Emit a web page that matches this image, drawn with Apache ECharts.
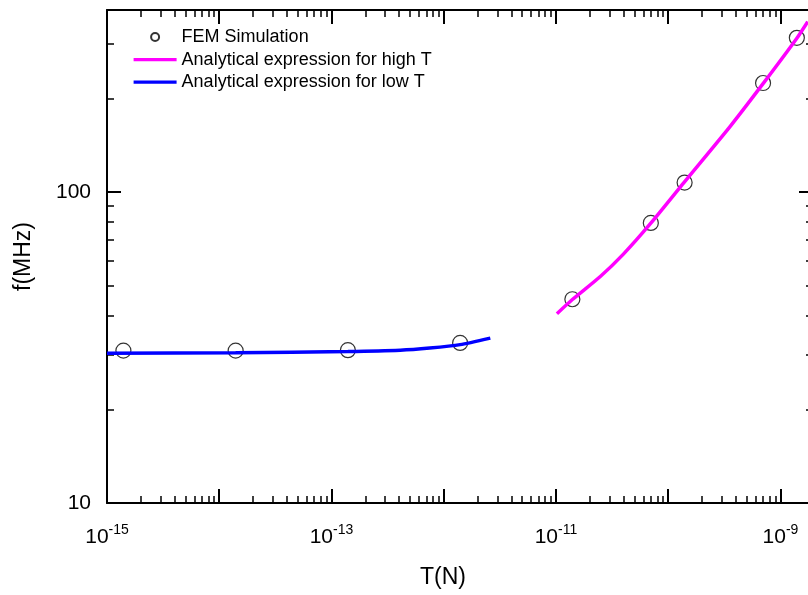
<!DOCTYPE html>
<html>
<head>
<meta charset="utf-8">
<script src="https://cdn.jsdelivr.net/npm/echarts@6/dist/echarts.min.js"></script>
<style>
html, body { margin: 0; padding: 0; background: #fff; }
#chart { width: 808px; height: 595px; }
</style>
</head>
<body>
<div id="chart"></div>
<script>
// FEM simulation points (T in N, f in MHz)
var femT = [1.4e-15, 1.4e-14, 1.4e-13, 1.4e-12, 1.4e-11, 7e-11, 1.4e-10, 7e-10, 1.4e-9];
var femF = [30.9, 30.9, 31.0, 32.7, 45.2, 79.5, 107.2, 224, 313];

// analytical expression, low T
var lowT = [1e-15, 1.4e-14, 1.4e-13, 4.1e-13, 7.5e-13, 1.4e-12, 2.6e-12];
var lowF = [30.3, 30.4, 30.7, 31.0, 31.5, 32.3, 33.9];

// analytical expression, high T
var highT = [1.02e-11, 1.4e-11, 2.47e-11, 3.95e-11, 7e-11, 1.38e-10, 3.54e-10, 7e-10, 1.39e-9, 1.75e-9];
var highF = [40.6, 45.1, 53.4, 62.9, 79.4, 107.2, 162, 223, 311, 353];

// axes: decade exponents
var xDecades = [-15, -14, -13, -12, -11, -10, -9];
var xLabelDecades = [-15, -13, -11, -9];
var yDecades = [1, 2];
var yLabels = ['10', '100'];

var xMin = -15, xMax = -8.71;
var yMin = 1, yMax = 2.585;
var font = '"Liberation Sans", Arial, sans-serif';

function toLog(xs, ys) {
    return xs.map(function (x, i) { return [Math.log10(x), Math.log10(ys[i])]; });
}

function minorTicks(decades, lo, hi) {
    var out = [];
    decades.forEach(function (d) {
        for (var k = 2; k < 10; k++) {
            var v = d + Math.log10(k);
            if (v > lo && v < hi) out.push(v);
        }
    });
    return out;
}

var xMinor = minorTicks(xDecades, xMin, xMax);
var yMinor = minorTicks(yDecades, yMin, yMax);

function tickAxis(pos, min, max, ticks, len, width, line) {
    return {
        type: 'value', position: pos, min: min, max: max,
        axisLine: { show: line, onZero: false, lineStyle: { color: '#000', width: 2 } },
        axisTick: { show: true, inside: true, length: len, customValues: ticks, lineStyle: { color: '#000', width: width } },
        axisLabel: { show: false },
        splitLine: { show: false }
    };
}

var xMain = tickAxis('bottom', xMin, xMax, xDecades, 14, 2, true);
xMain.axisLabel = {
    show: true, customValues: xLabelDecades, margin: 20, color: '#000',
    formatter: function (v) { return '{b|10}{s|' + v + '}'; },
    rich: {
        b: { fontSize: 21, fontFamily: font, color: '#000', lineHeight: 25, verticalAlign: 'bottom' },
        s: { fontSize: 14, fontFamily: font, color: '#000', lineHeight: 15, verticalAlign: 'top' }
    }
};
xMain.name = 'T(N)';
xMain.nameLocation = 'middle';
xMain.nameGap = 63;
xMain.nameTextStyle = { fontSize: 23, fontFamily: font, color: '#000', padding: [0, 34, 0, 0] };

var yMain = tickAxis('left', yMin, yMax, yDecades, 14, 2, true);
yMain.axisLabel = {
    show: true, customValues: yDecades, margin: 16, color: '#000', fontSize: 21, fontFamily: font,
    formatter: function (v) { return yLabels[yDecades.indexOf(Math.round(v))]; }
};
yMain.name = 'f(MHz)';
yMain.nameLocation = 'middle';
yMain.nameGap = 72;
yMain.nameTextStyle = { fontSize: 23, fontFamily: font, color: '#000' };

var chart = echarts.init(document.getElementById('chart'));
chart.setOption({
    animation: false,
    backgroundColor: '#fff',
    grid: { left: 107, right: -5, top: 10, bottom: 92, containLabel: false, outerBoundsMode: 'none' },
    legend: {
        left: 132, top: 28, orient: 'vertical', padding: 0,
        itemWidth: 43, itemHeight: 8, itemGap: 4.6,
        textStyle: { fontSize: 18, fontFamily: font, color: '#000', lineHeight: 18 },
        data: [
            { name: 'FEM Simulation' },
            { name: 'Analytical expression for high T', itemStyle: { opacity: 0 }, lineStyle: { width: 3.2 } },
            { name: 'Analytical expression for low T', itemStyle: { opacity: 0 }, lineStyle: { width: 3.2 } }
        ]
    },
    xAxis: [
        xMain,
        tickAxis('bottom', xMin, xMax, xMinor, 7, 1.5, false),
        tickAxis('top', xMin, xMax, xDecades, 14, 2, true),
        tickAxis('top', xMin, xMax, xMinor, 7, 1.5, false)
    ],
    yAxis: [
        yMain,
        tickAxis('left', yMin, yMax, yMinor, 7, 1.5, false),
        tickAxis('right', yMin, yMax, yDecades, 14, 2, true),
        tickAxis('right', yMin, yMax, yMinor, 7, 1.5, false)
    ],
    series: [
        {
            name: 'FEM Simulation', type: 'scatter', z: 2,
            symbol: 'circle', symbolSize: 15,
            itemStyle: { color: 'rgba(0,0,0,0)', borderColor: '#000', borderWidth: 1.2 },
            data: toLog(femT, femF)
        },
        {
            name: 'Analytical expression for high T', type: 'line', z: 3,
            showSymbol: false, symbol: 'none', smooth: 0.2,
            color: '#ff00ff', lineStyle: { color: '#ff00ff', width: 3.5 },
            data: toLog(highT, highF)
        },
        {
            name: 'Analytical expression for low T', type: 'line', z: 3,
            showSymbol: false, symbol: 'none', smooth: 0.2,
            color: '#0000ff', lineStyle: { color: '#0000ff', width: 3.5 },
            data: toLog(lowT, lowF)
        }
    ]
});
</script>
</body>
</html>
